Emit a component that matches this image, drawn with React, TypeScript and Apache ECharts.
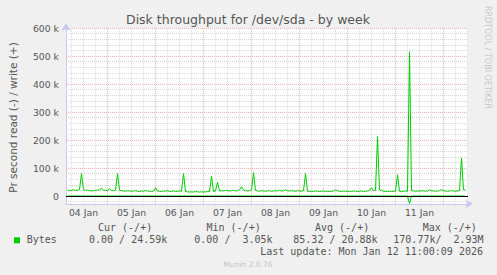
import { useEffect, useRef } from 'react';
import * as echarts from 'echarts';

const TITLE = 'Disk throughput for /dev/sda - by week';
const Y_NAME = 'Pr second read (-) / write (+)';
const WATERMARK = 'RRDTOOL / TOBI OETIKER';
const FOOTER = 'Munin 2.0.76';

// x axis in hours since 04 Jan 00:00
const X_MIN = 3.25;
const X_MAX = 204.25;
const DAY_LABELS = ['04 Jan', '05 Jan', '06 Jan', '07 Jan', '08 Jan', '09 Jan', '10 Jan', '11 Jan'];
const DAY_LABEL_HOURS = [12, 36, 60, 84, 108, 132, 156, 180];
const DAY_BOUNDARY_HOURS = [24, 48, 72, 96, 120, 144, 168, 192];

const Y_MIN = -28000;
const Y_MAX = 600000;
const Y_TICKS = [0, 100000, 200000, 300000, 400000, 500000, 600000];

// write (+), hourly, starting at hour 4, in k
const WRITE_START_HOUR = 4;
const writeK = [
  21, 19, 20, 22, 20, 21, 23, 80, 22, 20, 21, 19, 18, 19, 20, 21, 22, 28, 21, 20,
  19, 27, 20, 19, 21, 80, 20, 19, 18, 17, 19, 18, 17, 18, 19, 17, 16, 18, 17, 19, 18, 17, 16, 18,
  30, 18, 17, 16, 18, 17, 19, 16, 17, 18, 16, 17, 18, 17, 80, 16, 15, 14, 15, 14, 16, 15, 14, 15,
  14, 15, 16, 15, 70, 16, 18, 49, 18, 19, 18, 20, 19, 18, 19, 20, 18, 19, 22, 33, 21, 19, 18, 19,
  22, 83, 20, 18, 17, 19, 18, 17, 18, 19, 17, 18, 19, 18, 20, 18, 19, 22, 19, 18, 19, 18, 17, 19,
  18, 17, 19, 80, 17, 16, 17, 16, 18, 17, 16, 17, 18, 16, 17, 16, 17, 18, 22, 19, 17, 16, 18, 17,
  16, 17, 16, 18, 17, 16, 17, 18, 16, 17, 18, 20, 30, 19, 20, 212, 21, 20, 17, 16, 17, 16, 17, 16,
  18, 76, 17, 16, 17, 18, 17, 515, 19, 18, 17, 18, 17, 19, 18, 17, 18, 22, 19, 18, 17, 18, 19, 23,
  19, 18, 17, 18, 19, 18, 17, 18, 19, 135, 22, 21,
];

// read (-), [hour, bytes]
const readPoints: [number, number][] = [
  [4, 0], [174, 0], [175, -27000], [176, 0], [203, 0],
];

const LEGEND_HEADERS = [
  { text: 'Cur (-/+)', x: 98 },
  { text: 'Min (-/+)', x: 206.5 },
  { text: 'Avg (-/+)', x: 315 },
  { text: 'Max (-/+)', x: 422.7 },
];
const LEGEND_NAME = 'Bytes';
const CUR_TEXT = '0.00 / 24.59k';
const MIN_LEFT = '0.00 /';
const MIN_RIGHT = '3.05k';
const AVG_TEXT = '85.32 / 20.88k';
const MAX_LEFT = '170.77k/';
const MAX_RIGHT = '2.93M';
const LAST_UPDATE = 'Last update: Mon Jan 12 11:00:09 2026';

const GREEN = '#00cc00';
const MINOR_COLOR = '#dadada';
const MAJOR_COLOR = '#f0b0b0';
const AXIS_COLOR = '#c8c8f4';
const TEXT_COLOR = '#555555';

export default function App() {
  const ref = useRef<HTMLDivElement>(null);
  useEffect(() => {
    if (!ref.current) return;
    const chart = echarts.init(ref.current, undefined, { renderer: 'svg' });

    const writeData = writeK.map((v, i) => [WRITE_START_HOUR + i, v * 1000]);

    const hMinor: number[] = [];
    for (let v = -20000; v < Y_MAX; v += 20000) if (v % 100000 !== 0) hMinor.push(v);
    const vMinor: number[] = [];
    for (let h = 6; h <= X_MAX; h += 6) if (h % 24 !== 0) vMinor.push(h);

    const dotted = [1, 1];
    const gridLines = [
      ...hMinor.map((v) => ({ yAxis: v, lineStyle: { color: MINOR_COLOR, type: dotted, width: 1 } })),
      ...vMinor.map((h) => ({ xAxis: h, lineStyle: { color: MINOR_COLOR, type: dotted, width: 1 } })),
      ...Y_TICKS.filter((v) => v !== 0).map((v) => ({ yAxis: v, lineStyle: { color: MAJOR_COLOR, type: dotted, width: 1 } })),
      ...DAY_BOUNDARY_HOURS.map((h) => ({ xAxis: h, lineStyle: { color: MAJOR_COLOR, type: dotted, width: 1 } })),
    ];

    const mono = 'DejaVu Sans Mono';
    const monoText = (text: string, x: number, y: number, align: string = 'left') => ({
      type: 'text',
      x,
      y,
      style: { text, fill: TEXT_COLOR, font: `10px "${mono}"`, textAlign: align, textVerticalAlign: 'middle' },
    });

    chart.setOption({
      animation: false,
      backgroundColor: '#f0f0f0',
      grid: {
        left: 66,
        right: 29,
        top: 28,
        height: 175.84,
        show: true,
        backgroundColor: '#ffffff',
        borderWidth: 0,
      },
      xAxis: {
        type: 'value',
        min: X_MIN,
        max: X_MAX,
        splitLine: { show: false },
        axisTick: { show: false },
        axisLine: {
          show: true,
          onZero: false,
          lineStyle: { color: AXIS_COLOR, width: 1 },
          symbol: ['none', 'arrow'],
          symbolSize: [7, 8],
          symbolOffset: [0, 5],
        },
        axisLabel: {
          customValues: DAY_LABEL_HOURS,
          formatter: (v: number) => DAY_LABELS[DAY_LABEL_HOURS.indexOf(v)] ?? '',
          color: TEXT_COLOR,
          fontFamily: 'DejaVu Sans',
          fontSize: 9.3,
          margin: 4,
        },
      },
      yAxis: {
        type: 'value',
        min: Y_MIN,
        max: Y_MAX,
        splitLine: { show: false },
        axisTick: { show: false },
        axisLine: {
          show: true,
          lineStyle: { color: AXIS_COLOR, width: 1 },
          symbol: ['none', 'arrow'],
          symbolSize: [7, 8],
          symbolOffset: [0, 5],
        },
        axisLabel: {
          customValues: Y_TICKS,
          formatter: (v: number) => (v === 0 ? '0' : `${v / 1000} k`),
          color: TEXT_COLOR,
          fontFamily: 'DejaVu Sans',
          fontSize: 9.3,
          margin: 7,
        },
      },
      series: [
        {
          type: 'line',
          name: 'grid',
          data: [],
          silent: true,
          z: 1,
          markLine: { silent: true, z: 1, symbol: ['none', 'none'], label: { show: false }, data: gridLines },
        },
        {
          type: 'line',
          name: 'read',
          data: readPoints,
          showSymbol: false,
          symbol: 'none',
          silent: true,
          z: 2,
          lineStyle: { color: GREEN, width: 1 },
        },
        {
          type: 'line',
          name: 'zero',
          data: [],
          silent: true,
          z: 3,
          markLine: {
            silent: true,
            z: 3,
            symbol: ['none', 'none'],
            label: { show: false },
            data: [{ yAxis: 0, lineStyle: { color: '#000000', type: 'solid', width: 1.2 } }],
          },
        },
        {
          type: 'line',
          name: 'write',
          data: writeData,
          showSymbol: false,
          symbol: 'none',
          silent: true,
          z: 4,
          lineStyle: { color: GREEN, width: 1 },
        },
      ],
      graphic: [
        {
          type: 'text', x: 248, y: 19,
          style: { text: TITLE, fill: TEXT_COLOR, font: '12.5px "DejaVu Sans"', textAlign: 'center', textVerticalAlign: 'middle' },
        },
        {
          type: 'text', x: 13, y: 117.5, rotation: Math.PI / 2,
          style: { text: Y_NAME, fill: TEXT_COLOR, font: '10.5px "DejaVu Sans"', textAlign: 'center', textVerticalAlign: 'middle' },
        },
        {
          type: 'text', x: 487, y: 57.5, rotation: -Math.PI / 2,
          style: { text: WATERMARK, fill: '#c8c8c8', font: '8px "DejaVu Sans"', textAlign: 'center', textVerticalAlign: 'middle' },
        },
        ...LEGEND_HEADERS.map((h) => monoText(h.text, h.x, 227.7)),
        { type: 'rect', shape: { x: 14, y: 237.3, width: 6, height: 6 }, style: { fill: GREEN } },
        monoText(LEGEND_NAME, 26.7, 239.7),
        monoText(CUR_TEXT, 89, 239.7),
        monoText(MIN_LEFT, 194.3, 239.7),
        monoText(MIN_RIGHT, 272.6, 239.7, 'right'),
        monoText(AVG_TEXT, 293.3, 239.7),
        monoText(MAX_LEFT, 393.3, 239.7),
        monoText(MAX_RIGHT, 483.5, 239.7, 'right'),
        monoText(LAST_UPDATE, 483, 251.3, 'right'),
        {
          type: 'text', x: 248, y: 264,
          style: { text: FOOTER, fill: '#c4c4c4', font: '7.5px "DejaVu Sans"', textAlign: 'center', textVerticalAlign: 'middle' },
        },
      ],
    });
    return () => chart.dispose();
  }, []);
  return <div ref={ref} style={{ position: 'fixed', left: 0, top: 0, width: 497, height: 275 }} />;
}
